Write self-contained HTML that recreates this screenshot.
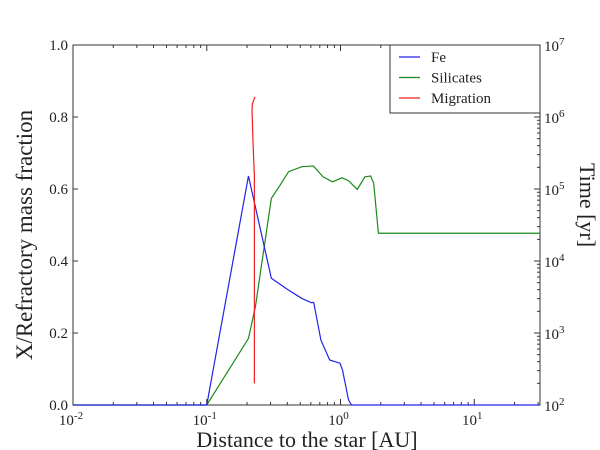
<!DOCTYPE html>
<html><head><meta charset="utf-8"><style>
html,body{margin:0;padding:0;background:#fff;width:600px;height:450px;overflow:hidden}
text{font-family:"Liberation Serif","DejaVu Serif",serif;fill:#222}
</style></head><body>
<svg id="chart" width="600" height="450" viewBox="0 0 600 450" xmlns="http://www.w3.org/2000/svg"></svg>
<script>
const feX=[0.01,0.1,0.205,0.304,0.409,0.514,0.607,0.63,0.714,0.83,0.99,1.035,1.148,1.21,31];
const feY=[0,0,0.636,0.352,0.319,0.296,0.284,0.285,0.18,0.125,0.116,0.097,0.014,0,0];
const siX=[0.01,0.1,0.205,0.231,0.304,0.347,0.409,0.514,0.627,0.74,0.871,1.026,1.148,1.334,1.524,1.68,1.77,1.92,31];
const siY=[0,0,0.185,0.273,0.574,0.606,0.648,0.662,0.664,0.634,0.62,0.631,0.623,0.599,0.634,0.636,0.616,0.477,0.477];
const miX=[0.227,0.227,0.222,0.218,0.219,0.229];
const miT=[200,150000,420000,1250000,1500000,1900000];
const yTicks=[0,0.2,0.4,0.6,0.8,1.0];
const yTickLabels=["0.0","0.2","0.4","0.6","0.8","1.0"];
const xDecades=[-2,-1,0,1];
const tDecades=[2,3,4,5,6,7];

const L=73,R=540,T=45,B=405;
const xMin=-2,xMax=Math.log10(31);
const sx=v=>L+(Math.log10(v)-xMin)/(xMax-xMin)*(R-L);
const sy=v=>B-v*(B-T);
const st=v=>B-(Math.log10(v)-2)/5*(B-T);
const svg=document.getElementById('chart');
const NS='http://www.w3.org/2000/svg';
function mk(tag,attrs,parent){const e=document.createElementNS(NS,tag);for(const k in attrs)e.setAttribute(k,attrs[k]);(parent||svg).appendChild(e);return e;}

const frame=mk('rect',{x:L,y:T,width:R-L,height:B-T,fill:'none',stroke:'#333','stroke-width':1});



yTicks.forEach((v,i)=>{
  const y=sy(v);
  const tk=mk('line',{x1:L,x2:L+5,y1:y,y2:y,stroke:'#333'});
  
  
  const t=mk('text',{x:L-5,y:y+5,'text-anchor':'end','font-size':15});
  t.textContent=yTickLabels[i];
  
  
});
for(let d=-2;d<=1;d++){
  for(let m=1;m<=9;m++){
    const v=m*Math.pow(10,d);
    if(Math.log10(v)>xMax)break;
    const x=sx(v),len=m===1?6:3;
    const a=mk('line',{x1:x,x2:x,y1:B,y2:B-len,stroke:'#333'});
    
    
    const b=mk('line',{x1:x,x2:x,y1:T,y2:T+len,stroke:'#333'});
    
    
  }
}
xDecades.forEach(d=>{
  const x=sx(Math.pow(10,d));
  const t=mk('text',{x:x-2,y:425,'text-anchor':'middle','font-size':15});
  t.textContent='10';
  const s=mk('tspan',{dy:-6,'font-size':11},t);s.textContent=String(d);
  
  
});
tDecades.forEach(d=>{
  const y=st(Math.pow(10,d));
  const tk=mk('line',{x1:R,x2:R-6,y1:y,y2:y,stroke:'#333'});
  
  
  if(d<7)for(let m=2;m<=9;m++){const yy=st(m*Math.pow(10,d));const mt=mk('line',{x1:R,x2:R-3,y1:yy,y2:yy,stroke:'#333'});}
  const t=mk('text',{x:R+4,y:y+6,'font-size':15});
  t.textContent='10';
  const s=mk('tspan',{dy:-6,'font-size':11},t);s.textContent=String(d);
  
  
});

function line(xs,ys,f,color,name){
  const p=mk('polyline',{points:xs.map((x,i)=>sx(x)+','+f(ys[i])).join(' '),fill:'none',stroke:color,'stroke-width':1.2});
  
  
}
line(siX,siY,sy,'#1a8a1a','silicates-line');
line(feX,feY,sy,'#2323e8','fe-line');
line(miX,miT,st,'#f02020','migration-line');

const lg=mk('g',{});


mk('rect',{x:390,y:T,width:R-390,height:68,fill:'#fff',stroke:'#333'},lg);
[['Fe','#2323e8'],['Silicates','#1a8a1a'],['Migration','#f02020']].forEach((e,i)=>{
  const y=T+12+i*20.5;
  const g=mk('g',{},lg);
  
  
  mk('line',{x1:399,x2:420,y1:y,y2:y,stroke:e[1],'stroke-width':1.2},g);
  const t=mk('text',{x:431,y:y+5,'font-size':15},g);t.textContent=e[0];
});

const yt=mk('text',{x:0,y:0,'font-size':23,'text-anchor':'middle',transform:'translate(32,235) rotate(-90)'});
yt.textContent='X/Refractory mass fraction';


const xt=mk('text',{x:307,y:447,'font-size':22,'text-anchor':'middle'});
xt.textContent='Distance to the star [AU]';


const rt=mk('text',{x:0,y:0,'font-size':22,'text-anchor':'middle',transform:'translate(580,205) rotate(90)'});
rt.textContent='Time [yr]';


</script>
</body></html>
